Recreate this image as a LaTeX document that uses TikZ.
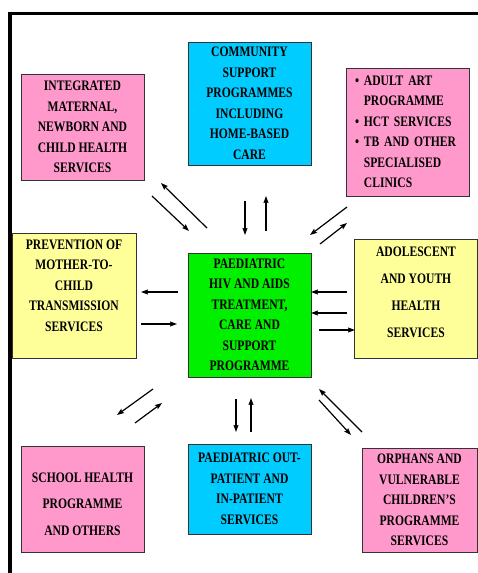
\documentclass[tikz,border=0pt]{standalone}
\usepackage{fontspec}
\setmainfont{Liberation Serif}
\newfontfamily\boxfont[FakeStretch=0.8]{Liberation Serif}
\usetikzlibrary{arrows.meta}

\definecolor{pinkbox}{HTML}{FF99CC}
\definecolor{cyanbox}{HTML}{00CCFF}
\definecolor{yellowbox}{HTML}{FFFF99}
\definecolor{greenbox}{HTML}{00F000}

\tikzset{
    svcbox/.style={draw=black!80, line width=0.8pt, align=center, inner sep=0pt,
        font=\boxfont\bfseries\fontsize{14.5}{20.5}\selectfont},
    flow/.style={-{Stealth[length=7pt,width=5pt,inset=1pt]}, line width=1.2pt},
}

\begin{document}
\begin{tikzpicture}[x=1pt, y=-1pt]
        \useasboundingbox (0,0) rectangle (478,573);

        % Frame
        \draw[line width=3.5pt] (10,573) -- (10,13.5) -- (478,13.5);

        % Top row
        \node[svcbox, fill=pinkbox, minimum width=123pt, minimum height=106pt] (imnch) at (82.5,127)
            {INTEGRATED\\MATERNAL,\\NEWBORN AND\\CHILD HEALTH\\SERVICES};
        \node[svcbox, fill=cyanbox, minimum width=123pt, minimum height=123pt] (community) at (249.5,103.5)
            {COMMUNITY\\SUPPORT\\PROGRAMMES\\INCLUDING\\HOME-BASED\\CARE};
        \node[svcbox, fill=pinkbox, align=left, text width=105pt, inner xsep=9pt, minimum height=128pt] (adultart) at (407.5,132)
            {\textbullet\ ADULT ART\\\hphantom{\textbullet\ }PROGRAMME\\\textbullet\ HCT SERVICES\\\textbullet\ TB AND OTHER\\\hphantom{\textbullet\ }SPECIALISED\\\hphantom{\textbullet\ }CLINICS};

        % Middle row
        \node[svcbox, fill=yellowbox, minimum width=124pt, minimum height=125pt] (pmtct) at (74,295.5) {};
        \node[svcbox, draw=none] (pmtct-text) at ([yshift=10pt]pmtct.center)
            {PREVENTION OF\\MOTHER-TO-\\CHILD\\TRANSMISSION\\SERVICES};
        \node[svcbox, fill=greenbox, minimum width=123pt, minimum height=124pt] (hub) at (249.5,315)
            {PAEDIATRIC\\HIV AND AIDS\\TREATMENT,\\CARE AND\\SUPPORT\\PROGRAMME};
        \node[svcbox, fill=yellowbox, minimum width=123pt, minimum height=119pt] (youth) at (416,298.5) {};
        \node[svcbox, draw=none, font=\boxfont\bfseries\fontsize{14.5}{27}\selectfont] (youth-text)
            at ([yshift=6pt]youth.center) {ADOLESCENT\\AND YOUTH\\HEALTH\\SERVICES};

        % Bottom row
        \node[svcbox, fill=pinkbox, minimum width=123pt, minimum height=106pt] (school) at (82.5,499) {};
        \node[svcbox, draw=none, font=\boxfont\bfseries\fontsize{14.5}{26.5}\selectfont] (school-text)
            at ([yshift=-5pt]school.center) {SCHOOL HEALTH\\PROGRAMME\\AND OTHERS};
        \node[svcbox, fill=cyanbox, minimum width=123pt, minimum height=90pt] (opd) at (249.5,489)
            {PAEDIATRIC OUT-\\PATIENT AND\\IN-PATIENT\\SERVICES};
        \node[svcbox, fill=pinkbox, minimum width=115pt, minimum height=104pt] (ovc) at (419.5,500)
            {ORPHANS AND\\VULNERABLE\\CHILDREN’S\\PROGRAMME\\SERVICES};

        % Arrows to and from the programme
        \foreach \from/\to in {
            {207,228}/{161,183}, {152,196}/{189,231},
            {245,201}/{245,235}, {266,231}/{266,196},
            {347,207}/{310,235}, {320,244}/{347,223},
            {178,292}/{141,292}, {141,324}/{177,324},
            {347,292}/{311,292}, {347,313}/{311,313}, {319,330}/{355,330},
            {153,389}/{117,415}, {135,423}/{162,403},
            {236,399}/{236,432}, {251,432}/{251,398},
            {362,432}/{319,389}, {319,400}/{351,435}} {
            \draw[flow] (\from) -- (\to);
        }
\end{tikzpicture}
\end{document}
